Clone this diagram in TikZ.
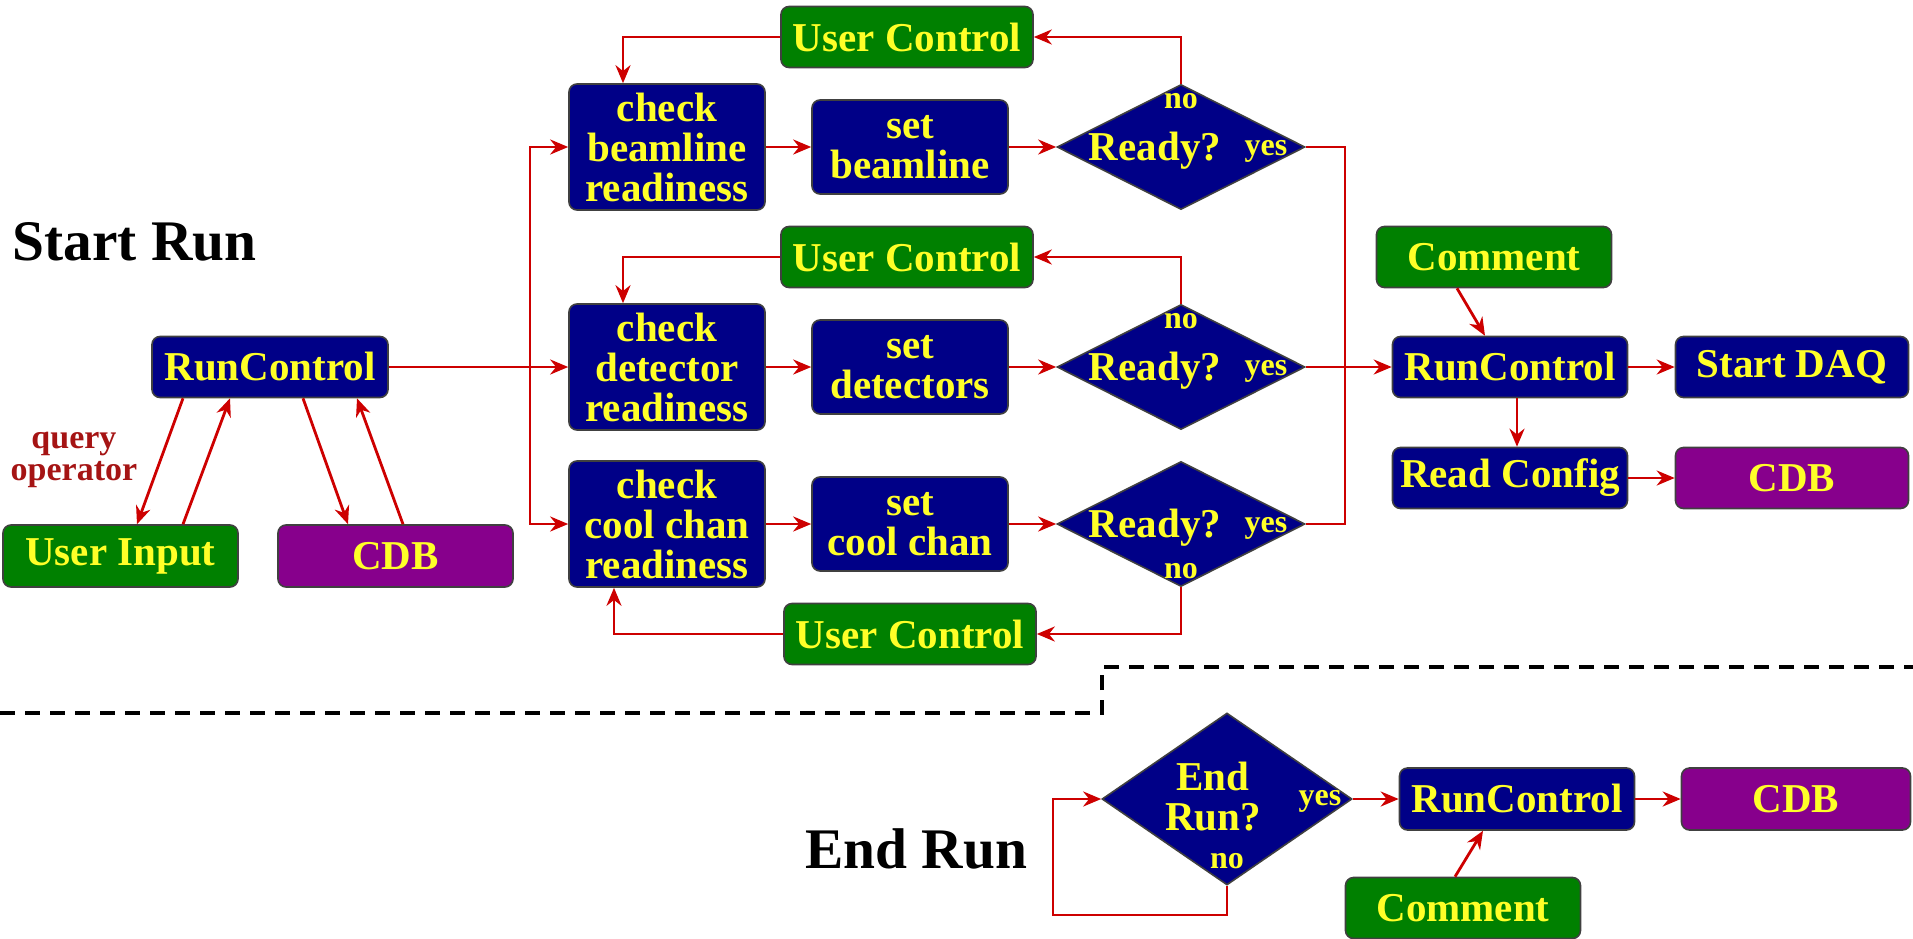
\documentclass[tikz,border=0pt]{standalone}
\usepackage{fontspec}
\setmainfont{Liberation Serif}
\usetikzlibrary{arrows.meta,positioning,calc,shapes.geometric}
\definecolor{boxblue}{RGB}{0,0,135}
\definecolor{boxgreen}{RGB}{0,128,0}
\definecolor{boxpurple}{RGB}{135,0,140}
\definecolor{txtyellow}{RGB}{255,255,40}
\definecolor{flowred}{RGB}{205,0,0}
\definecolor{notered}{RGB}{165,20,20}

\begin{document}
\begin{tikzpicture}[x=0.5pt, y=-0.5pt,
    box/.style={rectangle, rounded corners=4pt, draw=black!75, line width=0.8pt,
                text=txtyellow, font=\fontsize{20.5}{20}\selectfont\bfseries,
                align=center, inner sep=0pt, minimum height=30.5pt},
    blu/.style={box, fill=boxblue},
    grn/.style={box, fill=boxgreen},
    prp/.style={box, fill=boxpurple},
    dec/.style={diamond, draw=black!75, fill=boxblue, line width=0.8pt,
                inner sep=0pt, minimum width=124pt, minimum height=62.5pt},
    lbl/.style={text=txtyellow, font=\fontsize{20.5}{20}\selectfont\bfseries,
                align=center, inner sep=0pt},
    sml/.style={text=txtyellow, font=\fontsize{16}{16}\selectfont\bfseries,
                inner sep=0pt},
    qry/.style={text=notered, font=\fontsize{17}{16}\selectfont\bfseries,
                align=center, inner sep=0pt},
    ttl/.style={font=\fontsize{28.7}{30}\selectfont\bfseries, inner sep=0pt},
    flow/.style={draw=flowred, line width=1.4pt, -{Stealth[length=9pt,width=7.5pt]}},
    wire/.style={draw=flowred, line width=1.4pt}]
    \useasboundingbox (0,0) rectangle (1913,938);

    % Titles
    \node[ttl, anchor=base west] (start) at (12,260) {Start Run};
    \node[ttl, anchor=base west] (end) at (805,868) {End Run};

    % Left: operator query and conditions DB
    \node[blu, minimum width=118pt] (rc1) at (270,367) {RunControl};
    \node[grn, minimum width=117.5pt, minimum height=31pt] (ui) at (120.5,556) {User Input};
    \node[prp, minimum width=117.5pt, minimum height=31pt] (cdb1) at (395.5,556) {CDB};
    \node[qry] (qop) at (74,460) {query\\operator};
    \draw[flow] ($(rc1.south)+(-87,0)$) -- ($(ui.north)+(16.5,0)$);
    \draw[flow] ($(ui.north)+(62.5,0)$) -- ($(rc1.south)+(-40,0)$);
    \draw[flow] ($(rc1.south)+(33,0)$) -- ($(cdb1.north)+(-47.5,0)$);
    \draw[flow] ($(cdb1.north)+(7.5,0)$) -- ($(rc1.south)+(87,0)$);

    % Three readiness rows
    \foreach \r/\y/\what/\setw in {1/147/beamline/beamline, 2/367/detector/detectors,
                                    3/524/cool chan/cool chan}{
      \node[blu, minimum width=98pt, minimum height=63pt] (chk\r) at (667,\y)
        {check\\\what\\readiness};
      \node[blu, minimum width=98pt, minimum height=47pt] (set\r) at (910,\y)
        {set\\\setw};
      \node[dec] (dia\r) at (1181,\y) {};
      \node[lbl, anchor=base] (rdy\r) at ($(dia\r)+(-26,13)$) {Ready?};
      \node[sml, anchor=base] (yes\r) at ($(dia\r)+(85,8)$) {yes};
      \draw[flow] (chk\r) -- (set\r);
      \draw[flow] (set\r) -- (dia\r);
    }
    \node[sml, anchor=base] (no1) at ($(dia1)+(0,-39)$) {no};
    \node[sml, anchor=base] (no2) at ($(dia2)+(0,-39)$) {no};
    \node[sml, anchor=base] (no3) at ($(dia3)+(0,54)$) {no};

    % User control loops
    \node[grn, minimum width=126pt] (uc1) at (907,37) {User Control};
    \node[grn, minimum width=126pt] (uc2) at (907,257) {User Control};
    \node[grn, minimum width=126pt] (uc3) at (910,634) {User Control};
    \draw[flow] (dia1.north) |- (uc1.east);
    \draw[flow] (uc1.west) -| ($(chk1.north)+(-44,0)$);
    \draw[flow] (dia2.north) |- (uc2.east);
    \draw[flow] (uc2.west) -| ($(chk2.north)+(-44,0)$);
    \draw[flow] (dia3.south) |- (uc3.east);
    \draw[flow] (uc3.west) -| ($(chk3.south)+(-53,0)$);

    % Buses
    \coordinate (busL) at (530,367);
    \coordinate (busR) at (1345,367);
    \draw[flow] (rc1.east) -- (chk2.west);
    \draw[flow] (busL) |- (chk1.west);
    \draw[flow] (busL) |- (chk3.west);
    \draw[wire] (dia1.east) -| (busR);
    \draw[wire] (dia3.east) -| (busR);

    % Right: start the run
    \node[grn, minimum width=117.5pt] (cm1) at (1494,257) {Comment};
    \node[blu, minimum width=117.5pt] (rc2) at (1510,367) {RunControl};
    \node[blu, minimum width=116.5pt] (daq) at (1792,367) {Start DAQ};
    \node[blu, minimum width=117.5pt] (cfg) at (1510,478) {Read Config};
    \node[prp, minimum width=116.5pt] (cdb2) at (1792,478) {CDB};
    \draw[flow] (dia2.east) -- (rc2.west);
    \draw[flow] ($(cm1.south)+(-37,0)$) -- ($(rc2.north)+(-25,0)$);
    \draw[flow] (rc2) -- (daq);
    \draw[flow] ($(rc2.south)+(7,0)$) -- ($(cfg.north)+(7,0)$);
    \draw[flow] (cfg) -- (cdb2);

    % Separator
    \draw[black, line width=2pt, dash pattern=on 7.5pt off 5pt]
      (0,713) -- (1102,713) -- (1102,667) -- (1913,667);

    % End run
    \node[dec, minimum width=125pt, minimum height=86pt] (dia4) at (1227,799) {};
    \node[lbl] (endq) at ($(dia4)+(-14,-2)$) {End\\Run?};
    \node[sml, anchor=base] (yes4) at ($(dia4)+(93,6)$) {yes};
    \node[sml, anchor=base] (no4) at ($(dia4)+(0,69)$) {no};
    \node[blu, minimum width=117.5pt, minimum height=31pt] (rc3) at (1517,799) {RunControl};
    \node[prp, minimum width=114.5pt, minimum height=31pt] (cdb3) at (1796,799) {CDB};
    \node[grn, minimum width=117.5pt] (cm2) at (1463,908) {Comment};
    \coordinate (loop) at (1053,915);
    \draw[flow] (dia4.east) -- (rc3.west);
    \draw[flow] (rc3) -- (cdb3);
    \draw[flow] ($(cm2.north)+(-8,0)$) -- ($(rc3.south)+(-34,0)$);
    \draw[flow] (dia4.south) |- (loop) |- (dia4.west);
\end{tikzpicture}
\end{document}
